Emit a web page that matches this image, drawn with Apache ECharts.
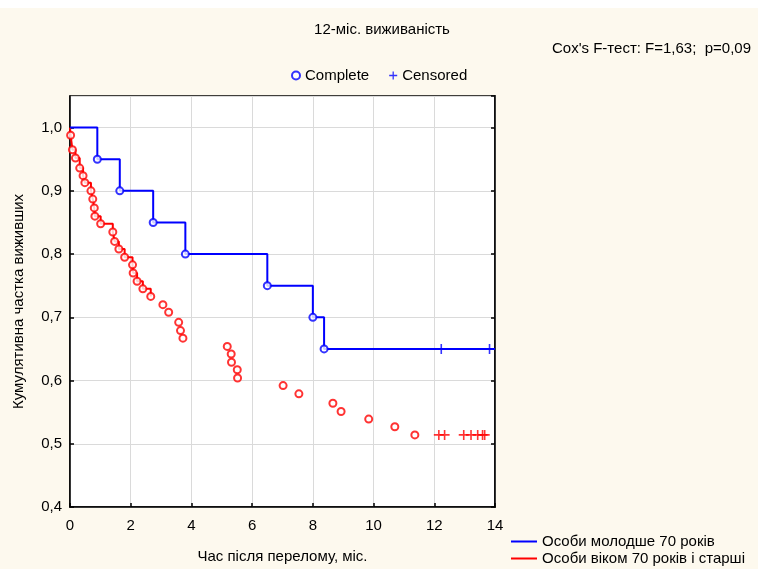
<!DOCTYPE html>
<html><head><meta charset="utf-8">
<script src="https://cdn.jsdelivr.net/npm/echarts@6/dist/echarts.min.js"></script>
<style>html,body{margin:0;padding:0;background:#fff}#c{width:758px;height:569px}</style>
</head><body><div id="c"></div>
<script>
// ---- data ----
const titleText = '12-міс. виживаність';
const coxText = "Cox's F-тест: F=1,63;  p=0,09";
const xName = 'Час після перелому, міс.';
const yName = 'Кумулятивна частка виживших';
const groupYoung = 'Особи молодше 70 років';
const groupOld = 'Особи віком 70 років і старші';

// young group (blue): complete event times and survival after each event
const blueTimes = [0.9, 1.64, 2.74, 3.8, 6.5, 8.0, 8.37];
const blueSurv  = [0.95, 0.90, 0.85, 0.80, 0.75, 0.70, 0.65];
const blueCensTimes = [12.23, 13.82];
const blueEndTime = 14;

// older group (red): complete event times and survival after each event
const redTimes = [0.02, 0.08, 0.18, 0.32, 0.43, 0.49, 0.69, 0.75, 0.80, 0.82,
                  1.01, 1.41, 1.47, 1.61, 1.80, 2.06, 2.08, 2.21, 2.40, 2.66,
                  3.06, 3.25, 3.58, 3.64, 3.72, 5.18, 5.31, 5.32, 5.51, 5.52,
                  7.02, 7.54, 8.66, 8.93, 9.84, 10.70, 11.36];
const redSurv  = [0.988, 0.965, 0.952, 0.936, 0.924, 0.913, 0.900, 0.887, 0.873, 0.860,
                  0.848, 0.835, 0.820, 0.808, 0.795, 0.783, 0.770, 0.757, 0.745, 0.733,
                  0.720, 0.708, 0.692, 0.679, 0.667, 0.654, 0.642, 0.629, 0.617, 0.604,
                  0.592, 0.579, 0.564, 0.551, 0.539, 0.527, 0.514];
const redLineEvents = 20; // the step line is drawn through the first 20 events only
const redCensTimes = [12.15, 12.34, 12.97, 13.21, 13.43, 13.59, 13.66];

const xTicks = {min: 0, max: 14, interval: 2};
const yTicks = {min: 0.4, max: 1.05, interval: 0.1};

// ---- build series data ----
const blueLine = [[0, 1]].concat(blueTimes.map((t, i) => [t, blueSurv[i]]));
blueLine.push([blueEndTime, blueSurv[blueSurv.length - 1]]);
const blueCircles = blueTimes.map((t, i) => [t, blueSurv[i]]);
const blueCens = blueCensTimes.map(t => [t, blueSurv[blueSurv.length - 1]]);

const redLine = [[0, 1]].concat(redTimes.slice(0, redLineEvents).map((t, i) => [t, redSurv[i]]));
const redCircles = redTimes.map((t, i) => [t, redSurv[i]]);
const redCens = redCensTimes.map(t => [t, redSurv[redSurv.length - 1]]);

const BLUE = '#0000FF', RED = '#FF0000';
const plus = 'path://M0,4.2 H10 V5.8 H0 Z M4.2,0 H5.8 V10 H4.2 Z';
const FONT = 'Liberation Sans, Arial, sans-serif';
const fmt = v => {
  const r = Math.round(v * 10) / 10;
  if (Math.abs(r - v) > 1e-6) return '';
  return r.toFixed(1).replace('.', ',');
};

const chart = echarts.init(document.getElementById('c'));
chart.setOption({
  backgroundColor: '#FDF9EE',
  animation: false,
  textStyle: {fontFamily: FONT, color: '#000'},
  graphic: [
    {type: 'rect', left: 0, top: 0, shape: {width: 758, height: 8}, style: {fill: '#fff'}},
    {type: 'text', x: 382, y: 30, style: {text: titleText, font: '15px ' + FONT, fill: '#000', align: 'center', verticalAlign: 'middle'}},
    {type: 'text', x: 751, y: 49, style: {text: coxText, font: '15px ' + FONT, fill: '#000', align: 'right', verticalAlign: 'middle'}}
  ],
  grid: {left: 70, right: 263, top: 96, bottom: 55, show: true, backgroundColor: '#fff', borderColor: '#000', borderWidth: 1.5, containLabel: false},
  legend: [
    {data: ['Complete', 'Censored'], left: 291, top: 68, padding: 0, itemWidth: 8, itemHeight: 8, itemGap: 20,
     textStyle: {fontSize: 15, color: '#000', fontFamily: FONT}},
    {data: [{name: groupYoung, icon: 'rect'}, {name: groupOld, icon: 'rect'}], orient: 'vertical', left: 511, top: 534, height: 40, padding: 0,
     itemWidth: 26, itemHeight: 2, itemGap: 2,
     textStyle: {fontSize: 15, color: '#000', fontFamily: FONT}}
  ],
  xAxis: {
    type: 'value', min: xTicks.min, max: xTicks.max, interval: xTicks.interval,
    name: xName, nameLocation: 'middle', nameGap: 42, nameTextStyle: {fontSize: 15, color: '#000'},
    axisLine: {show: true, lineStyle: {color: '#000', width: 1.5}},
    axisTick: {show: true, inside: true, length: 4, lineStyle: {color: '#000', width: 1.5}},
    axisLabel: {fontSize: 15, color: '#000', margin: 11},
    splitLine: {show: true, lineStyle: {color: '#DADADA', width: 1}}
  },
  yAxis: [{
    type: 'value', min: yTicks.min, max: yTicks.max, interval: yTicks.interval,
    name: yName, nameLocation: 'middle', nameGap: 44, nameRotate: 90, nameTextStyle: {fontSize: 15, color: '#000'},
    axisLine: {show: true, lineStyle: {color: '#000', width: 1.5}},
    axisTick: {show: true, inside: true, length: 4, lineStyle: {color: '#000', width: 1.5}},
    axisLabel: {fontSize: 15, color: '#000', margin: 8, formatter: fmt, showMaxLabel: false},
    splitLine: {show: true, lineStyle: {color: '#DADADA', width: 1}}
  }, {
    type: 'value', position: 'right', min: yTicks.min, max: yTicks.max, interval: yTicks.interval,
    axisLine: {show: true, lineStyle: {color: '#000', width: 1.5}},
    axisTick: {show: true, inside: true, length: 4, lineStyle: {color: '#000', width: 1.5}},
    axisLabel: {show: false}, splitLine: {show: false}
  }],
  series: [
    {name: groupYoung, type: 'line', step: 'end', data: blueLine, symbol: 'none', lineStyle: {color: BLUE, width: 2}, itemStyle: {color: BLUE}, z: 3},
    {name: groupOld, type: 'line', step: 'end', data: redLine, symbol: 'none', lineStyle: {color: RED, width: 2}, itemStyle: {color: RED}, z: 2},
    {name: 'Complete', type: 'scatter', data: blueCircles, symbol: 'circle', symbolSize: 7,
     itemStyle: {color: '#fff', borderColor: BLUE, borderWidth: 2}, z: 5},
    {name: 'Censored', type: 'scatter', data: blueCens, symbol: plus, symbolSize: 10, itemStyle: {color: BLUE}, z: 5},
    {name: 'CompleteOld', type: 'scatter', data: redCircles, symbol: 'circle', symbolSize: 7,
     itemStyle: {color: '#fff', borderColor: RED, borderWidth: 2}, z: 4},
    {name: 'CensoredOld', type: 'scatter', data: redCens, symbol: plus, symbolSize: 10, itemStyle: {color: RED}, z: 4}
  ]
});
</script></body></html>
